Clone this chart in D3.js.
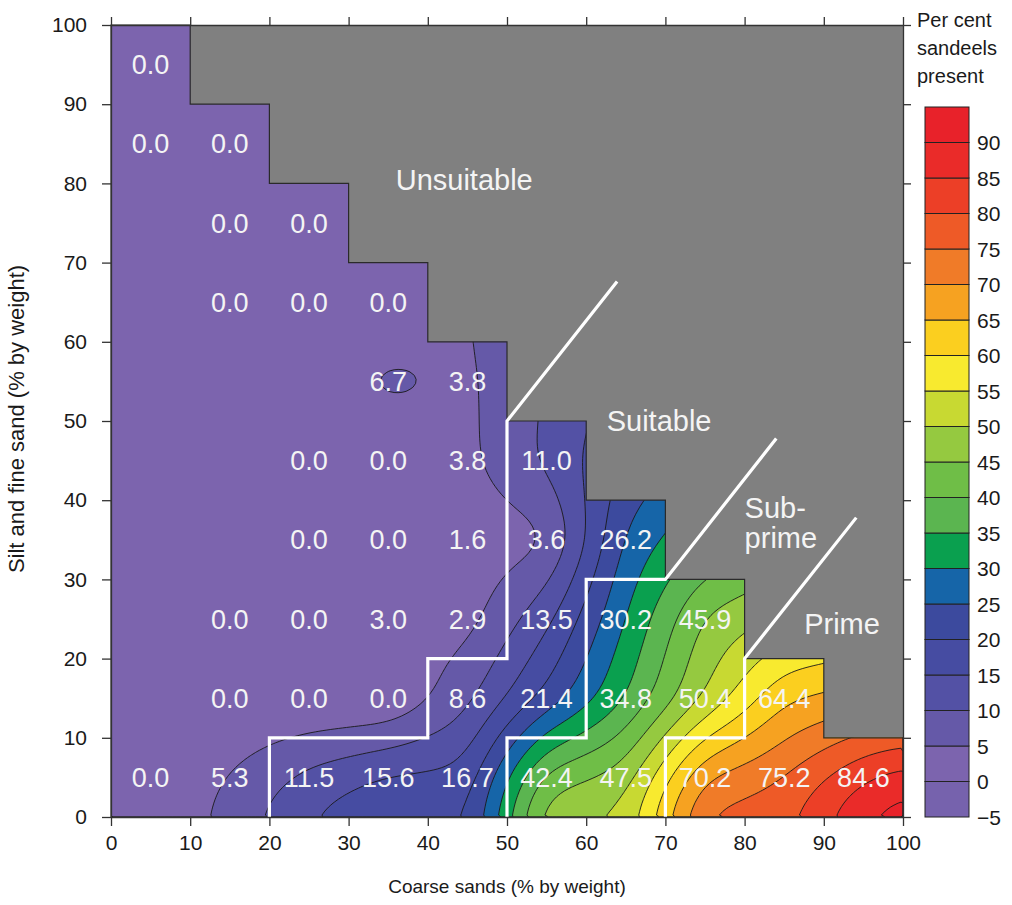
<!DOCTYPE html>
<html><head><meta charset="utf-8">
<script src="https://cdn.jsdelivr.net/npm/d3@7"></script>
<style>
body{margin:0;background:#fff;}
text{font-family:"Liberation Sans",Arial,Helvetica,sans-serif;}
</style>
</head><body>
<svg id="chart" width="1012" height="905"></svg>
<script>
// ---------------- DATA ----------------
// cell centres (coarse sands, x) and (silt + fine sand, y)
const coarseSandCentres = [5, 15, 25, 35, 45, 55, 65, 75, 85, 95];
const siltCentres = [95, 85, 75, 65, 55, 45, 35, 25, 15, 5];
// per cent sandeels present, one row per silt band (top to bottom); null = no sample
const pct95 = [0.0, null, null, null, null, null, null, null, null, null];
const pct85 = [0.0, 0.0, null, null, null, null, null, null, null, null];
const pct75 = [null, 0.0, 0.0, null, null, null, null, null, null, null];
const pct65 = [null, 0.0, 0.0, 0.0, null, null, null, null, null, null];
const pct55 = [null, null, null, 6.7, 3.8, null, null, null, null, null];
const pct45 = [null, null, 0.0, 0.0, 3.8, 11.0, null, null, null, null];
const pct35 = [null, null, 0.0, 0.0, 1.6, 3.6, 26.2, null, null, null];
const pct25 = [null, 0.0, 0.0, 3.0, 2.9, 13.5, 30.2, 45.9, null, null];
const pct15 = [null, 0.0, 0.0, 0.0, 8.6, 21.4, 34.8, 50.4, 64.4, null];
const pct05 = [0.0, 5.3, 11.5, 15.6, 16.7, 42.4, 47.5, 70.2, 75.2, 84.6];
// upper limit of sampled domain for each coarse-sand column
const columnTops = [100, 90, 80, 70, 60, 50, 40, 30, 20, 10];
// axis ticks
const axisTicks = [0, 10, 20, 30, 40, 50, 60, 70, 80, 90, 100];
// contour levels / colour-bar ticks and band colours
const levels = [-5, 0, 5, 10, 15, 20, 25, 30, 35, 40, 45, 50, 55, 60, 65, 70, 75, 80, 85, 90];
const bandColours = ["#7662AD","#7C64AE","#6559A8","#5351A5","#464CA2","#3C4A9E","#1665A8",
  "#0AA04F","#5BB550","#6FBE47","#95C940","#C8D932","#F8EA2F","#FBCF1F","#F6A221","#F07B28",
  "#EE5A27","#EC3F27","#EA2B29","#E8222A"];
// habitat class boundary lines
const suitableLine = [[20,0],[20,10],[40,10],[40,20],[50,20],[50,50],[63.9,67.6]];
const subprimeLine = [[50,0],[50,10],[60,10],[60,30],[70,30],[84.0,47.8]];
const primeLine = [[70,0],[70,10],[80,10],[80,20],[94.1,37.8]];

// ---------------- LAYOUT ----------------
const svg = d3.select("#chart");
const x = d3.scaleLinear().domain([0, 100]).range([111, 903]);
const y = d3.scaleLinear().domain([0, 100]).range([817, 25]);

// ---------------- FIELD ----------------
const rowsTopDown = [pct95, pct85, pct75, pct65, pct55, pct45, pct35, pct25, pct15, pct05];
const nC = coarseSandCentres.length;
const G = [], K = [];
for (let j = 0; j < nC; j++) {           // j = 0 is the bottom row
  const row = rowsTopDown[nC - 1 - j];
  G.push(row.map(v => v == null ? 0 : v));
  K.push(row.map(v => v != null));
}
for (let it = 0; it < 800; it++) {
  for (let j = 0; j < nC; j++) for (let i = 0; i < nC; i++) {
    if (K[j][i]) continue;
    let s = 0, c = 0;
    if (i > 0) { s += G[j][i-1]; c++; }
    if (i < nC-1) { s += G[j][i+1]; c++; }
    if (j > 0) { s += G[j-1][i]; c++; }
    if (j < nC-1) { s += G[j+1][i]; c++; }
    G[j][i] = s / c;
  }
}
// ghost ring (damped linear extrapolation, non-negative)
const damp = 0.6, nE = nC + 2;
const E = [];
for (let j = 0; j < nE; j++) { E.push(new Array(nE).fill(0)); }
for (let j = 0; j < nC; j++) for (let i = 0; i < nC; i++) E[j+1][i+1] = G[j][i];
for (let j = 1; j <= nC; j++) {
  E[j][0] = Math.max(0, E[j][1] + damp * (E[j][1] - E[j][2]));
  E[j][nE-1] = Math.max(0, E[j][nE-2] + damp * (E[j][nE-2] - E[j][nE-3]));
}
for (let i = 0; i < nE; i++) {
  E[0][i] = Math.max(0, E[1][i] + damp * (E[1][i] - E[2][i]));
  E[nE-1][i] = Math.max(0, E[nE-2][i] + damp * (E[nE-2][i] - E[nE-3][i]));
}
const step = 0.5, n = Math.round(100 / step);
let vals = new Float64Array(n * n);
function interp(xv, yv) {
  const fx = (xv + 5) / 10, fy = (yv + 5) / 10;   // ghost centre at -5
  const i0 = Math.min(nE - 2, Math.floor(fx)), j0 = Math.min(nE - 2, Math.floor(fy));
  const tx = fx - i0, ty = fy - j0;
  return (1-tx)*(1-ty)*E[j0][i0] + tx*(1-ty)*E[j0][i0+1] + (1-tx)*ty*E[j0+1][i0] + tx*ty*E[j0+1][i0+1];
}
for (let r = 0; r < n; r++) {
  const yv = 100 - (r + 0.5) * step;
  for (let c = 0; c < n; c++) vals[r*n + c] = interp((c + 0.5) * step, yv);
}
// gaussian smoothing
(function blur(sigmaUnits) {
  const sg = sigmaUnits / step, rad = Math.ceil(sg * 3);
  const ker = []; let ks = 0;
  for (let k = -rad; k <= rad; k++) { const w = Math.exp(-k*k/(2*sg*sg)); ker.push(w); ks += w; }
  for (let k = 0; k < ker.length; k++) ker[k] /= ks;
  const tmp = new Float64Array(n*n);
  for (let r = 0; r < n; r++) for (let c = 0; c < n; c++) {
    let s = 0;
    for (let k = -rad; k <= rad; k++) { const cc = Math.max(0, Math.min(n-1, c+k)); s += ker[k+rad]*vals[r*n+cc]; }
    tmp[r*n+c] = s;
  }
  for (let r = 0; r < n; r++) for (let c = 0; c < n; c++) {
    let s = 0;
    for (let k = -rad; k <= rad; k++) { const rr = Math.max(0, Math.min(n-1, r+k)); s += ker[k+rad]*tmp[rr*n+c]; }
    vals[r*n+c] = s;
  }
})(2);

// ---------------- DRAW ----------------
// unsuitable background
svg.append("rect").attr("x", x(0)).attr("y", y(100))
  .attr("width", x(100) - x(0)).attr("height", y(0) - y(100)).attr("fill", "#808080");

// domain polygon
const domainPts = [[0,0],[100,0]];
for (let i = nC - 1; i >= 0; i--) { domainPts.push([10*(i+1), columnTops[i]]); domainPts.push([10*i, columnTops[i]]); }
const line = d3.line().x(d => x(d[0])).y(d => y(d[1]));
svg.append("clipPath").attr("id", "dom").append("path").attr("d", line(domainPts) + "Z");

const proj = d3.geoTransform({ point: function(px, py) { this.stream.point(x(px * step), y(100 - py * step)); } });
const gpath = d3.geoPath(proj);
const contours = d3.contours().size([n, n]).thresholds(levels)(Array.from(vals));
const cg = svg.append("g").attr("clip-path", "url(#dom)");
cg.selectAll("path").data(contours).join("path")
  .attr("d", gpath)
  .attr("fill", d => bandColours[levels.indexOf(d.value)])
  .attr("stroke", "#1a1a1a").attr("stroke-width", 0.9).attr("stroke-linejoin", "round");

svg.append("path").attr("d", line(domainPts) + "Z")
  .attr("fill", "none").attr("stroke", "#2a2a2a").attr("stroke-width", 1.2);

// class boundary lines
[suitableLine, subprimeLine, primeLine].forEach(l => {
  svg.append("path").attr("d", line(l)).attr("fill", "none")
    .attr("stroke", "#fff").attr("stroke-width", 3.2).attr("stroke-linecap", "butt");
});

// cell labels
const fmt = d3.format(".1f");
rowsTopDown.forEach((row, ri) => {
  row.forEach((v, ci) => {
    if (v == null) return;
    svg.append("text").attr("x", x(coarseSandCentres[ci])).attr("y", y(siltCentres[ri]) + 9.5)
      .attr("text-anchor", "middle").attr("fill", "#f4f4f4").attr("font-size", 27)
      .text(fmt(v));
  });
});

// region labels
const regionLabels = [
  {t: "Unsuitable", x: 44.6, y: 79.2, a: "middle"},
  {t: "Suitable", x: 69.2, y: 48.8, a: "middle"},
  {t: "Sub-", x: 80.0, y: 37.8, a: "start"},
  {t: "prime", x: 80.0, y: 34.0, a: "start"},
  {t: "Prime", x: 92.3, y: 23.1, a: "middle"}
];
svg.selectAll(".rl").data(regionLabels).join("text")
  .attr("x", d => x(d.x)).attr("y", d => y(d.y)).attr("text-anchor", d => d.a)
  .attr("fill", "#f4f4f4").attr("font-size", 29).text(d => d.t);

// axes
function styleAxis(g) {
  g.selectAll("path.domain").attr("stroke", "#333").attr("stroke-width", 1.3);
  g.selectAll(".tick line").attr("stroke", "#333").attr("stroke-width", 1.3);
  g.selectAll("text").attr("font-size", 21).attr("fill", "#1a1a1a")
    .attr("font-family", "'Liberation Sans',Arial,sans-serif");
}
svg.append("g").attr("transform", `translate(0,${y(0)})`)
  .call(d3.axisBottom(x).tickValues(axisTicks).tickSize(9).tickSizeOuter(0).tickPadding(9))
  .call(styleAxis);
svg.append("g").attr("transform", `translate(${x(0)},0)`)
  .call(d3.axisLeft(y).tickValues(axisTicks).tickSize(9).tickSizeOuter(0).tickPadding(15))
  .call(styleAxis);
svg.append("g").attr("transform", `translate(0,${y(100)})`)
  .call(d3.axisTop(x).tickValues(axisTicks).tickSize(8).tickSizeOuter(0).tickFormat(""))
  .call(styleAxis);
svg.append("g").attr("transform", `translate(${x(100)},0)`)
  .call(d3.axisRight(y).tickValues(axisTicks).tickSize(8).tickSizeOuter(0).tickFormat(""))
  .call(styleAxis);

svg.append("text").attr("x", 507).attr("y", 893).attr("text-anchor", "middle")
  .attr("font-size", 19).attr("fill", "#1a1a1a").text("Coarse sands (% by weight)");
svg.append("text").attr("transform", "translate(24,419) rotate(-90)").attr("text-anchor", "middle")
  .attr("font-size", 22).attr("fill", "#1a1a1a").text("Silt and fine sand (% by weight)");

// colour bar
const cb = d3.scaleLinear().domain([-5, 95]).range([817, 107]);
const cbg = svg.append("g");
levels.forEach((lv, k) => {
  cbg.append("rect").attr("x", 925).attr("width", 44)
    .attr("y", cb(lv + 5)).attr("height", cb(lv) - cb(lv + 5))
    .attr("fill", bandColours[k]).attr("stroke", "#222").attr("stroke-width", 1);
});
cbg.selectAll(".cbt").data(levels).join("text")
  .attr("x", 977).attr("y", d => cb(d) + 7.5).attr("font-size", 21).attr("fill", "#1a1a1a")
  .text(d => d < 0 ? "\u2212" + Math.abs(d) : d);
["Per cent", "sandeels", "present"].forEach((t, i) => {
  svg.append("text").attr("x", 917).attr("y", 27 + i * 28).attr("font-size", 20)
    .attr("fill", "#1a1a1a").text(t);
});
</script>
</body></html>
